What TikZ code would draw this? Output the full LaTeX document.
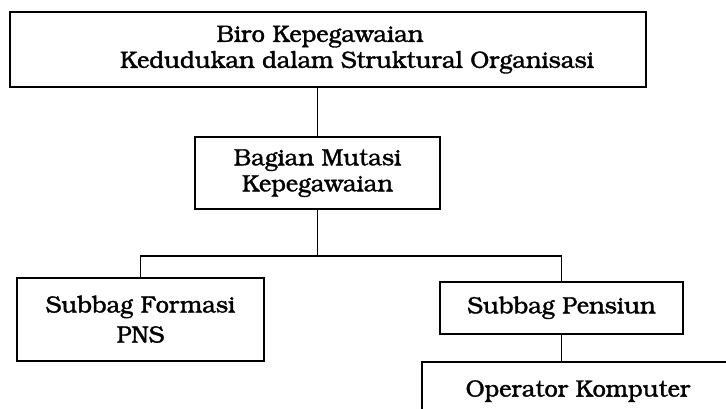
\documentclass[tikz,border=0pt]{standalone}
\usepackage[T1]{fontenc}
\usepackage{bookman}
\usetikzlibrary{positioning}
\newcommand{\tebal}{\special{pdf:literal direct 2 Tr 0.16 w}}
\tikzset{
  kotak/.style={rectangle, draw=black, line width=1pt, align=center,
    font=\fontsize{11.8}{13}\selectfont\tebal, inner sep=0pt},
  garis/.style={line width=0.9pt, color=black}
}
\begin{document}
\begin{tikzpicture}[x=0.5pt, y=-0.5pt]
  \useasboundingbox (0,0) rectangle (726,408);
  \clip (0,0) rectangle (726,408);
  \node[kotak, minimum width=318pt, minimum height=37.5pt] (biro) at (328,49.5)
    {\hspace*{-8pt}Biro Kepegawaian\\\hspace*{29pt}Kedudukan dalam Struktural Organisasi};
  \node[kotak, minimum width=122.5pt, minimum height=36pt] (mutasi) at (317.5,173)
    {Bagian Mutasi\\Kepegawaian};
  \node[kotak, minimum width=123.5pt, minimum height=41.5pt] (formasi) at (140.5,319.5)
    {Subbag Formasi\\[2pt]PNS};
  \node[kotak, minimum width=121.5pt, minimum height=26pt] (pensiun) at (561.5,308)
    {Subbag Pensiun};
  \node[kotak, minimum width=156pt, minimum height=29pt] (operator) at (578,391)
    {Operator Komputer};
  \coordinate (bus) at (0,256);
  \draw[garis] (biro.south -| mutasi.north) -- (mutasi.north);
  \draw[garis] (mutasi.south) -- (mutasi.south |- bus);
  \draw[garis] (formasi.north) -- (formasi.north |- bus) -- (pensiun.north |- bus) -- (pensiun.north);
  \draw[garis] (pensiun.south) -- (pensiun.south |- operator.north);
\end{tikzpicture}
\end{document}
